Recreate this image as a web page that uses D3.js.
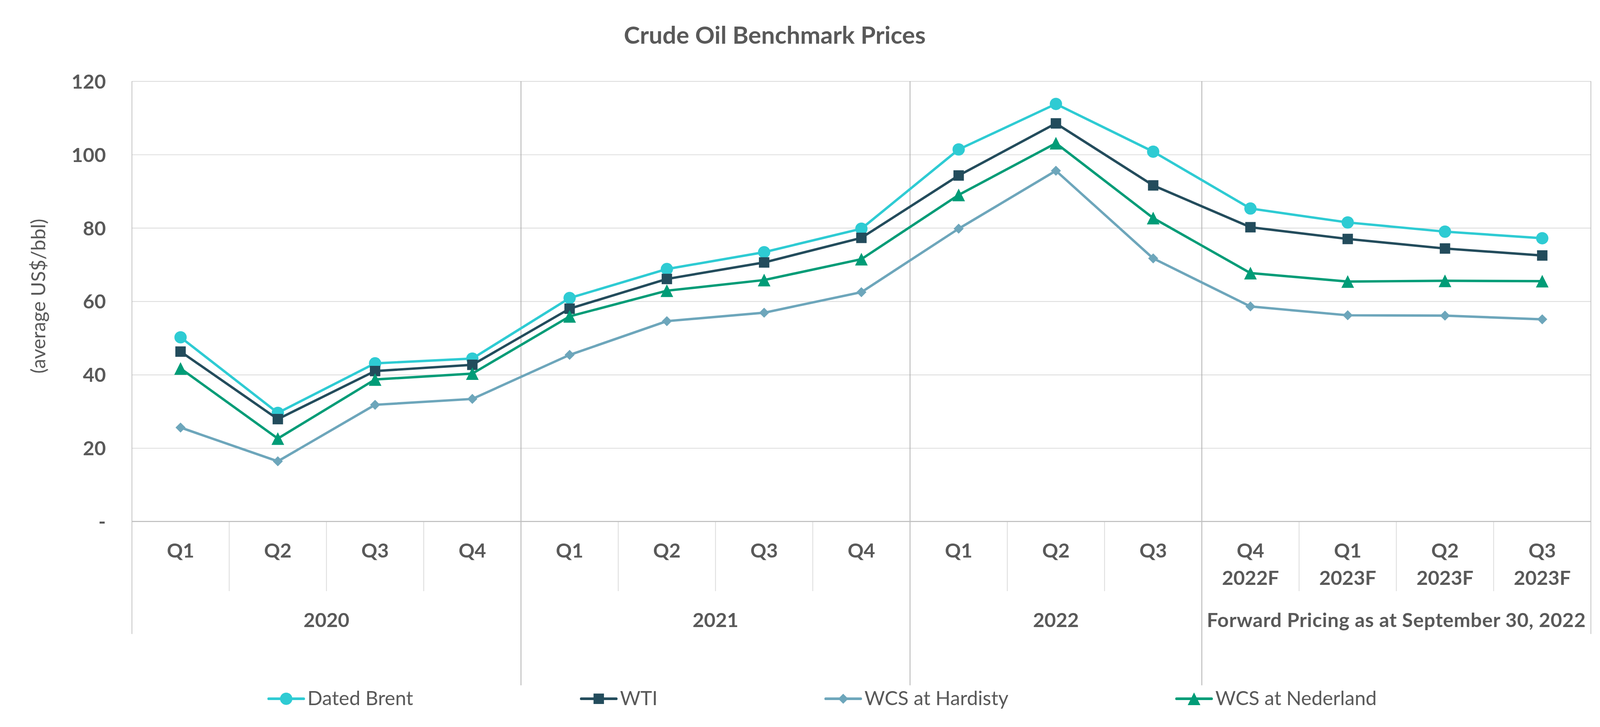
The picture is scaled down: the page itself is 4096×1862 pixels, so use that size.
<!DOCTYPE html>
<html><head><meta charset="utf-8">
<script src="https://cdn.jsdelivr.net/npm/d3@7"></script>
<style>html,body{margin:0;padding:0;background:#fff;overflow:hidden}</style>
</head><body>
<script>
// ---------- data ----------
const chartTitle = "Crude Oil Benchmark Prices";
const yAxisTitle = "(average US$/bbl)";
const quarterLabels = [["Q1"],["Q2"],["Q3"],["Q4"],["Q1"],["Q2"],["Q3"],["Q4"],["Q1"],["Q2"],["Q3"],["Q4","2022F"],["Q1","2023F"],["Q2","2023F"],["Q3","2023F"]];
const groupLabels = ["2020","2021","2022","Forward Pricing as at September 30, 2022"];
const groupSizes = [4,4,3,4];
const yTicks = [0,20,40,60,80,100,120];
const yTickLabels = ["-","20","40","60","80","100","120"];
const seriesNames = ["Dated Brent","WTI","WCS at Hardisty","WCS at Nederland"];
const datedBrent   = [50.2, 29.6, 43.1, 44.4, 60.9, 68.8, 73.4, 79.8, 101.4, 113.8, 100.8, 85.3, 81.5, 79.0, 77.2];
const wti          = [46.3, 27.9, 41.0, 42.7, 58.0, 66.1, 70.6, 77.3, 94.3, 108.5, 91.6, 80.2, 77.0, 74.4, 72.5];
const wcsHardisty  = [25.6, 16.4, 31.8, 33.4, 45.4, 54.6, 56.9, 62.5, 79.8, 95.6, 71.7, 58.6, 56.2, 56.1, 55.1];
const wcsNederland = [41.7, 22.6, 38.7, 40.3, 55.9, 62.9, 65.8, 71.5, 89.0, 103.1, 82.7, 67.7, 65.4, 65.6, 65.5];
const seriesValues = [datedBrent, wti, wcsHardisty, wcsNederland];
const seriesColors = ["#2ECBD3", "#234C5C", "#6DA6BB", "#009C77"];

// ---------- layout (reference units, scaled by 0.954) ----------
const S = 0.954;
const plotL = 354, plotR = 4269, plotT = 218, plotB = 1400;
const textColor = "#595959";
const font = "Lato, 'Open Sans', sans-serif";
const fs = 53;

const svg = d3.select("body").append("svg")
  .attr("width", 4096).attr("height", 1862)
  .style("display","block");
const root = svg.append("g").attr("transform", `scale(${S})`);

const x = d3.scaleBand().domain(d3.range(quarterLabels.length)).range([plotL, plotR]).padding(0);
const y = d3.scaleLinear().domain([0, 120]).range([plotB, plotT]);
const cx = i => x(i) + x.bandwidth() / 2;

// gridlines via axis
const yAxis = d3.axisLeft(y).tickValues(yTicks).tickSize(-(plotR - plotL)).tickFormat((d, i) => yTickLabels[i]).tickPadding(70);
const gy = root.append("g").attr("transform", `translate(${plotL},0)`).call(yAxis);
gy.select(".domain").remove();
gy.selectAll(".tick line").attr("stroke", "#D9D9D9").attr("stroke-width", 2);
gy.selectAll(".tick text")
  .attr("font-family", font).attr("font-size", fs).attr("font-weight", "bold")
  .attr("fill", textColor).attr("x", 284 - plotL).attr("dy", "0.36em").attr("text-anchor", "end");

// group boundaries
const starts = [];
groupSizes.reduce((acc, n) => { starts.push(acc); return acc + n; }, 0);
const groupEdges = starts.map(s => x(s));
const lines = root.append("g");
[plotL, plotR].forEach(px => {
  lines.append("line").attr("x1", px).attr("x2", px).attr("y1", plotT).attr("y2", 1702)
    .attr("stroke", "#BFBFBF").attr("stroke-width", 2);
});
groupEdges.slice(1).forEach(px => {
  lines.append("line").attr("x1", px).attr("x2", px).attr("y1", plotT).attr("y2", 1840)
    .attr("stroke", "#ABABAB").attr("stroke-width", 2);
});
d3.range(1, quarterLabels.length).filter(i => !starts.includes(i)).forEach(i => {
  lines.append("line").attr("x1", x(i)).attr("x2", x(i)).attr("y1", plotB).attr("y2", 1587)
    .attr("stroke", "#D9D9D9").attr("stroke-width", 2);
});
lines.append("line").attr("x1", plotL).attr("x2", plotR).attr("y1", plotB).attr("y2", plotB)
  .attr("stroke", "#BFBFBF").attr("stroke-width", 3);

// quarter labels
const ql = root.append("g").attr("font-family", font).attr("font-size", fs).attr("font-weight", "bold")
  .attr("fill", textColor).attr("text-anchor", "middle");
quarterLabels.forEach((lab, i) => {
  const t = ql.append("text").attr("x", cx(i)).attr("y", 1497);
  lab.forEach((s, k) => t.append("tspan").attr("x", cx(i)).attr("y", 1497 + k * 73).text(s));
});
groupLabels.forEach((g, k) => {
  const a = x(starts[k]), b = x(starts[k] + groupSizes[k] - 1) + x.bandwidth();
  ql.append("text").attr("x", (a + b) / 2).attr("y", 1683).text(g)
    .attr("letter-spacing", k === 3 ? 0.8 : 0);
});

// symbols
const triangleType = { draw(ctx, size) { const h = Math.sqrt(size); ctx.moveTo(0, -h/2); ctx.lineTo(h/2, h/2); ctx.lineTo(-h/2, h/2); ctx.closePath(); } };
const diamondType = { draw(ctx, size) { const r = Math.sqrt(size) / 2; ctx.moveTo(0, -r); ctx.lineTo(r, 0); ctx.lineTo(0, r); ctx.lineTo(-r, 0); ctx.closePath(); } };
const symbolDefs = [
  d3.symbol(d3.symbolCircle, Math.PI * 16.5 * 16.5),
  d3.symbol(d3.symbolSquare, 28 * 28),
  d3.symbol(diamondType, 27 * 27),
  d3.symbol(triangleType, 34 * 34)
];

// series
const lineGen = d3.line().x((d, i) => cx(i)).y(d => y(d));
seriesValues.forEach((vals, s) => {
  const g = root.append("g");
  g.append("path").attr("d", lineGen(vals)).attr("fill", "none")
    .attr("stroke", seriesColors[s]).attr("stroke-width", 6.5).attr("stroke-linejoin", "round");
  g.selectAll("path.m").data(vals).enter().append("path").attr("class", "m")
    .attr("d", symbolDefs[s]).attr("fill", seriesColors[s])
    .attr("transform", (d, i) => `translate(${cx(i)},${y(d)})`);
});

// title
root.append("text").attr("x", 2079).attr("y", 117).attr("text-anchor", "middle")
  .attr("font-family", font).attr("font-size", 65).attr("font-weight", "bold")
  .attr("fill", textColor).text(chartTitle);

// y axis title
root.append("text").attr("transform", "translate(101,795) rotate(-90)")
  .attr("text-anchor", "middle").attr("dominant-baseline", "central")
  .attr("font-family", font).attr("font-size", fs).attr("fill", textColor).text(yAxisTitle);

// legend
const leg = root.append("g");
let lx = 721;
const legY = 1876;
seriesNames.forEach((name, s) => {
  const g = leg.append("g");
  g.append("line").attr("x1", lx).attr("x2", lx + 94).attr("y1", legY).attr("y2", legY)
    .attr("stroke", seriesColors[s]).attr("stroke-width", 7).attr("stroke-linecap", "round");
  g.append("path").attr("d", symbolDefs[s]).attr("fill", seriesColors[s])
    .attr("transform", `translate(${lx + 47},${legY})`);
  const t = g.append("text").attr("x", lx + 104).attr("y", 1893)
    .attr("font-family", font).attr("font-size", fs).attr("fill", textColor).text(name);
  lx = lx + 104 + t.node().getComputedTextLength() + 451;
});
</script>
</body></html>
